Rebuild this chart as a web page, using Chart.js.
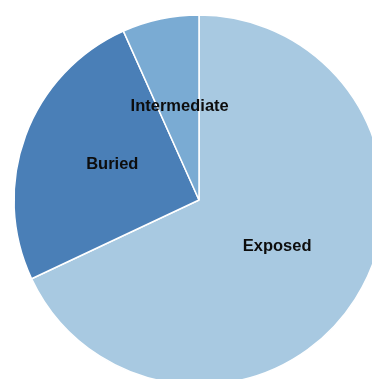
<!DOCTYPE html>
<html>
<head>
<meta charset="utf-8">
<script src="https://cdn.jsdelivr.net/npm/chart.js@4"></script>
<style>
  html, body { margin:0; padding:0; background:#fff; overflow:hidden; }
  #wrap { position:absolute; left:0; top:0; width:398px; height:400px; }
</style>
</head>
<body>
<div id="wrap"><canvas id="ch-pie"></canvas></div>
<script>
// exposure classes, clockwise from 12 o'clock
const labels = ['Exposed', 'Buried', 'Intermediate'];
const values = [68, 25.3, 6.7];
const colors = ['#a8c9e1', '#4a7fb7', '#7aabd3'];

// slice names drawn halfway out along each arc
const sliceLabels = {
  id: 'sliceLabels',
  afterDatasetsDraw(chart){
    const ctx = chart.ctx;
    const meta = chart.getDatasetMeta(0);
    ctx.save();
    ctx.font = 'bold 16.5px "Liberation Sans", Arial, sans-serif';
    ctx.fillStyle = '#0d0d0d';
    ctx.textAlign = 'center';
    ctx.textBaseline = 'middle';
    meta.data.forEach((arc, i) => {
      const p = arc.tooltipPosition();
      ctx.fillText(chart.data.labels[i], p.x, p.y - 3);
    });
    ctx.restore();
  }
};

new Chart(document.getElementById('ch-pie'), {
  type:'pie',
  data:{
    labels: labels,
    datasets:[{
      data: values,
      backgroundColor: colors,
      borderColor:'#fff',
      borderWidth:1.5,
      radius:185
    }]
  },
  options:{
    responsive:true,
    maintainAspectRatio:false,
    animation:false,
    plugins:{legend:{display:false}, tooltip:{enabled:false}}
  },
  plugins:[sliceLabels]
});
</script>
</body>
</html>
